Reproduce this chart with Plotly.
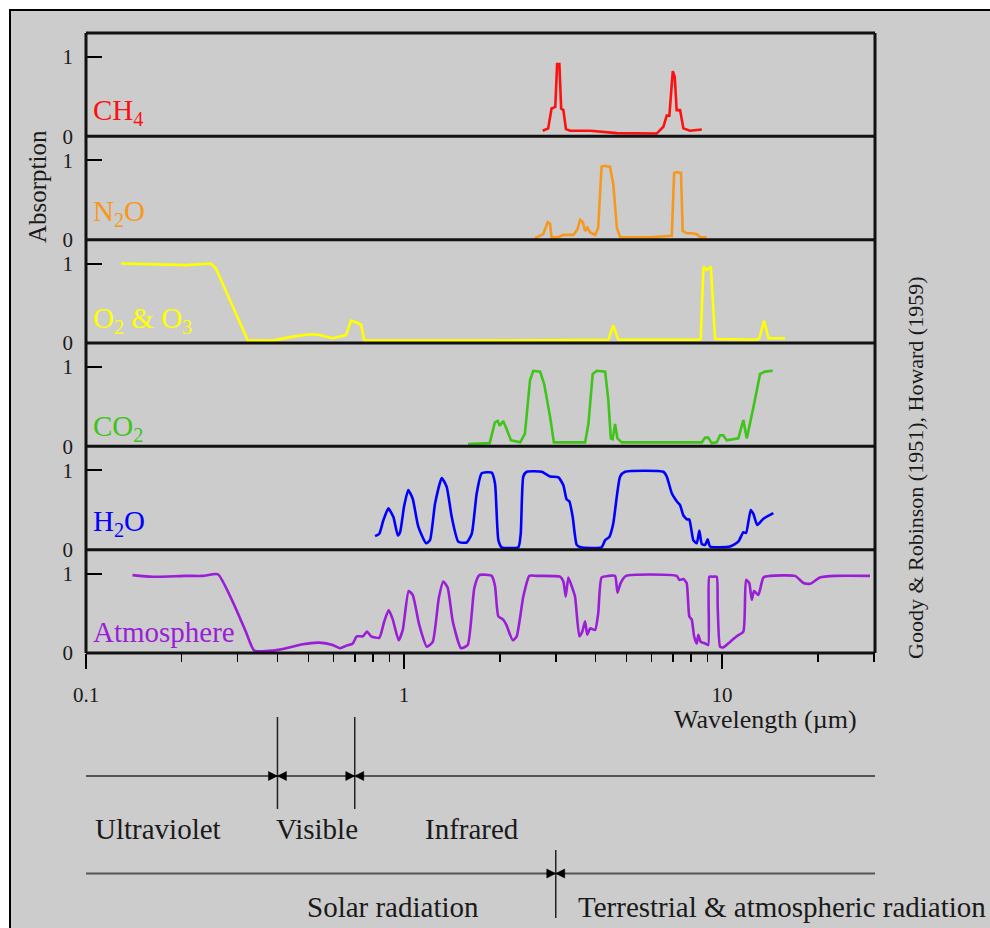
import numpy as np
import plotly.graph_objects as go

# ------------------------------------------------------------------
# Data: wavelength (µm) and absorption (0..1)
# ------------------------------------------------------------------
ch4_wl = [2.73, 2.84, 2.91, 2.99, 3.03, 3.08, 3.12, 3.17, 3.23, 3.33, 3.85, 4.67,
          6.23, 6.54, 6.70, 6.83, 7.00, 7.10, 7.20, 7.38, 7.56, 7.93, 8.64]
ch4_abs = [0.07, 0.10, 0.35, 0.37, 0.91, 0.91, 0.35, 0.33, 0.09, 0.07, 0.07, 0.04,
           0.035, 0.12, 0.26, 0.26, 0.82, 0.75, 0.33, 0.33, 0.10, 0.07, 0.085]

n2o_wl = [2.58, 2.74, 2.83, 2.88, 2.91, 3.06, 3.17, 3.41, 3.51, 3.58, 3.65, 3.71,
          3.77, 3.85, 3.99, 4.08, 4.18, 4.29, 4.36, 4.44, 4.55, 4.67, 4.78, 5.94,
          6.95, 7.07, 7.20, 7.43, 7.52, 7.74, 8.03, 8.33, 8.53, 8.95]
n2o_abs = [0.02, 0.07, 0.22, 0.20, 0.03, 0.03, 0.06, 0.06, 0.13, 0.25, 0.22, 0.11,
           0.15, 0.09, 0.06, 0.15, 0.92, 0.93, 0.92, 0.92, 0.70, 0.15, 0.03, 0.03,
           0.05, 0.84, 0.85, 0.84, 0.11, 0.08, 0.08, 0.07, 0.03, 0.03]

o2o3_wl = [0.129, 0.162, 0.206, 0.247, 0.256, 0.282, 0.323, 0.387, 0.447, 0.504,
           0.542, 0.597, 0.657, 0.681, 0.698, 0.733, 0.750, 1.73, 4.39, 4.55, 4.72,
           8.42, 8.57, 8.74, 8.95, 9.22, 9.51, 12.85, 13.1, 13.56, 14.0, 15.78]
o2o3_abs = [1.00, 0.99, 0.98, 1.00, 0.94, 0.56, 0.03, 0.03, 0.08, 0.11,
            0.10, 0.06, 0.10, 0.28, 0.27, 0.23, 0.03, 0.03, 0.04, 0.22, 0.04,
            0.04, 0.05, 0.96, 0.92, 0.96, 0.05, 0.04, 0.06, 0.28, 0.06, 0.06]

co2_wl = [1.59, 1.86, 1.93, 1.97, 2.00, 2.05, 2.10, 2.17, 2.32, 2.40,
          2.49, 2.55, 2.68, 2.76, 2.88, 2.96, 3.71, 3.80, 3.92, 4.04,
          4.29, 4.39, 4.47, 4.53, 4.61, 4.69, 4.84, 8.64, 8.85, 9.05,
          9.28, 9.62, 9.86, 10.09, 10.35, 11.25, 11.67, 11.96, 12.55, 13.17,
          13.65, 14.43]
co2_abs = [0.03, 0.04, 0.30, 0.32, 0.26, 0.32, 0.22, 0.075, 0.05, 0.16,
           0.83, 0.95, 0.94, 0.78, 0.37, 0.05, 0.05, 0.28, 0.91, 0.95,
           0.94, 0.58, 0.10, 0.09, 0.28, 0.10, 0.05, 0.05, 0.11, 0.11,
           0.04, 0.05, 0.14, 0.14, 0.075, 0.10, 0.33, 0.10, 0.49, 0.91,
           0.94, 0.95]

h2o_wl = [0.811, 0.836, 0.861, 0.893, 0.926, 0.956, 0.972, 1.0, 1.031, 1.065,
          1.109, 1.173, 1.207, 1.252, 1.314, 1.362, 1.413, 1.482, 1.575, 1.633,
          1.693, 1.755, 1.887, 1.933, 1.980, 2.029, 2.288, 2.328, 2.372, 2.431,
          2.710, 2.88, 3.06, 3.17, 3.248, 3.310, 3.392, 3.492, 3.595, 4.18,
          4.29, 4.421, 4.55, 4.78, 4.954, 6.54, 6.70, 6.95, 7.115, 7.235,
          7.38, 7.56, 7.779, 7.892, 8.123, 8.33, 8.485, 8.64, 8.85, 9.016,
          9.17, 10.6, 11.25, 11.67, 11.90, 12.31, 12.55, 12.91, 13.49, 14.50]
h2o_abs = [0.17, 0.20, 0.37, 0.52, 0.41, 0.18, 0.22, 0.54, 0.75, 0.64,
           0.29, 0.08, 0.12, 0.58, 0.90, 0.79, 0.41, 0.10, 0.09, 0.20,
           0.71, 0.96, 0.97, 0.83, 0.12, 0.03, 0.03, 0.20, 0.92, 0.98,
           0.98, 0.92, 0.91, 0.81, 0.63, 0.61, 0.41, 0.06, 0.03, 0.03,
           0.12, 0.16, 0.33, 0.92, 0.98, 0.98, 0.92, 0.71, 0.64, 0.60,
           0.56, 0.43, 0.38, 0.38, 0.12, 0.08, 0.24, 0.07, 0.06, 0.13,
           0.04, 0.04, 0.10, 0.22, 0.21, 0.50, 0.45, 0.31, 0.39, 0.46]

atm_wl = [0.140, 0.162, 0.206, 0.233, 0.260, 0.289, 0.318, 0.338, 0.387, 0.426,
          0.480, 0.542, 0.597, 0.629, 0.657, 0.690, 0.710, 0.742, 0.765, 0.788,
          0.836, 0.867, 0.895, 0.922, 0.962, 0.991, 1.034, 1.065, 1.117, 1.179,
          1.231, 1.286, 1.329, 1.372, 1.423, 1.511, 1.586, 1.664, 1.725, 1.887,
          1.933, 1.980, 2.05, 2.10, 2.197, 2.261, 2.372, 2.478, 2.615, 3.095,
          3.17, 3.225, 3.286, 3.368, 3.449, 3.559, 3.637, 3.71, 3.77, 3.85,
          3.99, 4.08, 4.18, 4.39, 4.61, 4.69, 4.80, 4.99, 7.20, 7.34,
          7.56, 7.74, 7.89, 8.03, 8.17, 8.33, 8.42, 8.57, 8.85, 9.05,
          9.12, 9.35, 9.62, 9.69, 9.86, 10.09, 10.6, 11.12, 11.67, 11.90,
          12.18, 12.40, 12.61, 13.01, 13.49, 14.16, 16.97, 18.03, 18.91, 20.33,
          22.66, 29.2]
atm_abs = [0.98, 0.96, 0.97, 0.97, 0.99, 0.65, 0.27, 0.03, 0.03, 0.06,
           0.11, 0.13, 0.10, 0.06, 0.09, 0.12, 0.21, 0.21, 0.27, 0.21,
           0.19, 0.40, 0.54, 0.42, 0.16, 0.29, 0.78, 0.73, 0.35, 0.08,
           0.14, 0.69, 0.90, 0.82, 0.40, 0.06, 0.10, 0.82, 0.98, 0.97,
           0.84, 0.46, 0.42, 0.35, 0.16, 0.21, 0.71, 0.97, 0.97, 0.96,
           0.90, 0.71, 0.95, 0.84, 0.71, 0.21, 0.27, 0.40, 0.23, 0.31,
           0.29, 0.50, 0.95, 0.97, 0.97, 0.76, 0.88, 0.97, 0.97, 0.92,
           0.93, 0.88, 0.46, 0.42, 0.21, 0.12, 0.23, 0.14, 0.12, 0.10,
           0.96, 0.96, 0.96, 0.59, 0.08, 0.07, 0.14, 0.21, 0.27, 0.92,
           0.88, 0.67, 0.78, 0.73, 0.95, 0.97, 0.97, 0.88, 0.87, 0.95,
           0.97, 0.97]

species_labels = ["CH<sub>4</sub>", "N<sub>2</sub>O", "O<sub>2</sub> &amp; O<sub>3</sub>",
                  "CO<sub>2</sub>", "H<sub>2</sub>O", "Atmosphere"]
species_colors = ["#ff1010", "#f7981d", "#ffff00", "#3fc41a", "#0000ff", "#9a1ed6"]
species_smooth = [False, False, False, False, True, True]
label_levels = [0.31, 0.33, 0.29, 0.23, 0.33, 0.26]

x_major_ticks = [0.1, 1, 10]
x_major_labels = ["0.1", "1", "10"]
x_minor_ticks = [0.2, 0.3, 0.4, 0.5, 0.6, 0.7, 0.8, 0.9,
                 2, 3, 4, 5, 6, 7, 8, 9, 20, 30]
y_ticks = [0, 1]

band_edges = [0.4, 0.7]          # UV | visible | IR
band_labels = ["Ultraviolet", "Visible", "Infrared"]
solar_edge = 3.0                 # solar | terrestrial
radiation_labels = ["Solar radiation", "Terrestrial &amp; atmospheric radiation"]

# ------------------------------------------------------------------
# Layout helpers (page pixel -> paper)
# ------------------------------------------------------------------
W, H = 990, 928
ML, MT = 86, 33
PW = 875 - 86
PH = 653 - 33
MR = W - ML - PW
MB = H - MT - PH
XMIN, XMAX = 0.1, 30.27
FONT = "Liberation Serif, Times New Roman, serif"
INK = "#1a1a1a"


def px(x):
    return (x - ML) / PW


def py(y):
    return (MT + PH - y) / PH


def wl2paper(w):
    return (np.log10(w) - np.log10(XMIN)) / (np.log10(XMAX) - np.log10(XMIN))


series = [(ch4_wl, ch4_abs), (n2o_wl, n2o_abs), (o2o3_wl, o2o3_abs),
          (co2_wl, co2_abs), (h2o_wl, h2o_abs), (atm_wl, atm_abs)]

fig = go.Figure()
for i, (wl, ab) in enumerate(series):
    yid = "y" if i == 0 else f"y{i + 1}"
    line = dict(color=species_colors[i], width=2.6)
    if species_smooth[i]:
        line.update(shape="spline", smoothing=0.5)
    fig.add_trace(go.Scatter(x=wl, y=ab, mode="lines", xaxis="x", yaxis=yid,
                             line=line, hoverinfo="skip", showlegend=False))

layout = dict(
    width=W, height=H, autosize=False,
    margin=dict(l=ML, r=MR, t=MT, b=MB, pad=0),
    paper_bgcolor="white", plot_bgcolor="rgba(0,0,0,0)",
    showlegend=False,
    font=dict(family=FONT, color=INK),
    xaxis=dict(type="log", range=[np.log10(XMIN), np.log10(XMAX)], anchor="y6",
               tickmode="array", tickvals=x_major_ticks, ticktext=x_major_labels,
               ticks="outside", ticklen=15, tickwidth=2, tickcolor="black",
               ticklabelstandoff=8,
               tickfont=dict(family=FONT, size=21, color=INK),
               showgrid=False, zeroline=False, showline=False,
               minor=dict(tickmode="array", tickvals=x_minor_ticks, ticks="outside",
                          ticklen=8, tickwidth=1.5, tickcolor="black", showgrid=False)),
)
for i in range(6):
    key = "yaxis" if i == 0 else f"yaxis{i + 1}"
    layout[key] = dict(domain=[(5 - i) / 6, (6 - i) / 6], range=[0, 1.3], anchor="x",
                       tickmode="array", tickvals=y_ticks, ticktext=["0", "1"],
                       ticks="inside", ticklen=16, tickwidth=2, tickcolor="black",
                       ticklabelstandoff=12,
                       tickfont=dict(family=FONT, size=21, color=INK),
                       showgrid=False, zeroline=False, showline=False)
fig.update_layout(**layout)

shapes = []
# grey page with black frame
shapes.append(dict(type="rect", xref="paper", yref="paper",
                   x0=px(10), x1=px(1010), y0=py(950), y1=py(10),
                   fillcolor="#cccccc", line=dict(color="black", width=2), layer="below"))
# panel frames
for k in range(7):
    shapes.append(dict(type="line", xref="paper", yref="paper", x0=0, x1=1,
                       y0=k / 6, y1=k / 6, line=dict(color="#111", width=3)))
for xv in (0, 1):
    shapes.append(dict(type="line", xref="paper", yref="paper", x0=xv, x1=xv,
                       y0=0, y1=1, line=dict(color="#111", width=3)))

# spectral-region diagram
LINE1_Y, LINE2_Y = 776, 873.5
for yy in (LINE1_Y, LINE2_Y):
    shapes.append(dict(type="line", xref="paper", yref="paper", x0=0, x1=1,
                       y0=py(yy), y1=py(yy), line=dict(color="#555", width=2)))


def divider(w, ytop, ybot, yline):
    xp = wl2paper(w)
    out = [dict(type="line", xref="paper", yref="paper", x0=xp, x1=xp,
                y0=py(ytop), y1=py(ybot), line=dict(color="#222", width=1.5))]
    for path in ("M-9,-4.5 L0,0 L-9,4.5 Z", "M9,-4.5 L0,0 L9,4.5 Z"):
        out.append(dict(type="path", xref="paper", yref="paper",
                        xsizemode="pixel", ysizemode="pixel",
                        xanchor=xp, yanchor=py(yline), path=path,
                        fillcolor="black", line=dict(color="black", width=0.5)))
    return out


for e in band_edges:
    shapes += divider(e, 717, 809, LINE1_Y)
shapes += divider(solar_edge, 850, 918, LINE2_Y)

annotations = []
for i, lab in enumerate(species_labels):
    yref = "y" if i == 0 else f"y{i + 1}"
    annotations.append(dict(text=lab, xref="paper", yref=yref, x=px(91), y=label_levels[i],
                            xanchor="left", yanchor="middle", showarrow=False,
                            font=dict(family=FONT, size=29, color=species_colors[i])))

annotations.append(dict(text="Absorption", xref="paper", yref="paper", x=px(37), y=py(187),
                        textangle=-90, showarrow=False, xanchor="center", yanchor="middle",
                        font=dict(family=FONT, size=25, color=INK)))
annotations.append(dict(text="Goody &amp; Robinson (1951), Howard (1959)", xref="paper",
                        yref="paper", x=px(915), y=py(467), textangle=-90, showarrow=False,
                        xanchor="center", yanchor="middle",
                        font=dict(family=FONT, size=22, color=INK)))
annotations.append(dict(text="Wavelength (µm)", xref="paper", yref="paper",
                        x=px(765), y=py(719), showarrow=False,
                        xanchor="center", yanchor="middle",
                        font=dict(family=FONT, size=26, color=INK)))

band_centres = [158, 317, 472]
for lab, cx in zip(band_labels, band_centres):
    annotations.append(dict(text=lab, xref="paper", yref="paper", x=px(cx), y=py(829),
                            showarrow=False, xanchor="center", yanchor="middle",
                            font=dict(family=FONT, size=29, color=INK)))
annotations.append(dict(text=radiation_labels[0], xref="paper", yref="paper",
                        x=px(393), y=py(907), showarrow=False,
                        xanchor="center", yanchor="middle",
                        font=dict(family=FONT, size=29, color=INK)))
annotations.append(dict(text=radiation_labels[1], xref="paper", yref="paper",
                        x=px(576), y=py(907), showarrow=False,
                        xanchor="left", yanchor="middle",
                        font=dict(family=FONT, size=29, color=INK)))

fig.update_layout(shapes=shapes, annotations=annotations)

page_fix = ("document.documentElement.style.overflow='hidden';"
            "document.body.style.margin='0';document.body.style.overflow='hidden';")
fig.write_html("out.html", post_script=page_fix,
               config={"displayModeBar": False, "staticPlot": True})
